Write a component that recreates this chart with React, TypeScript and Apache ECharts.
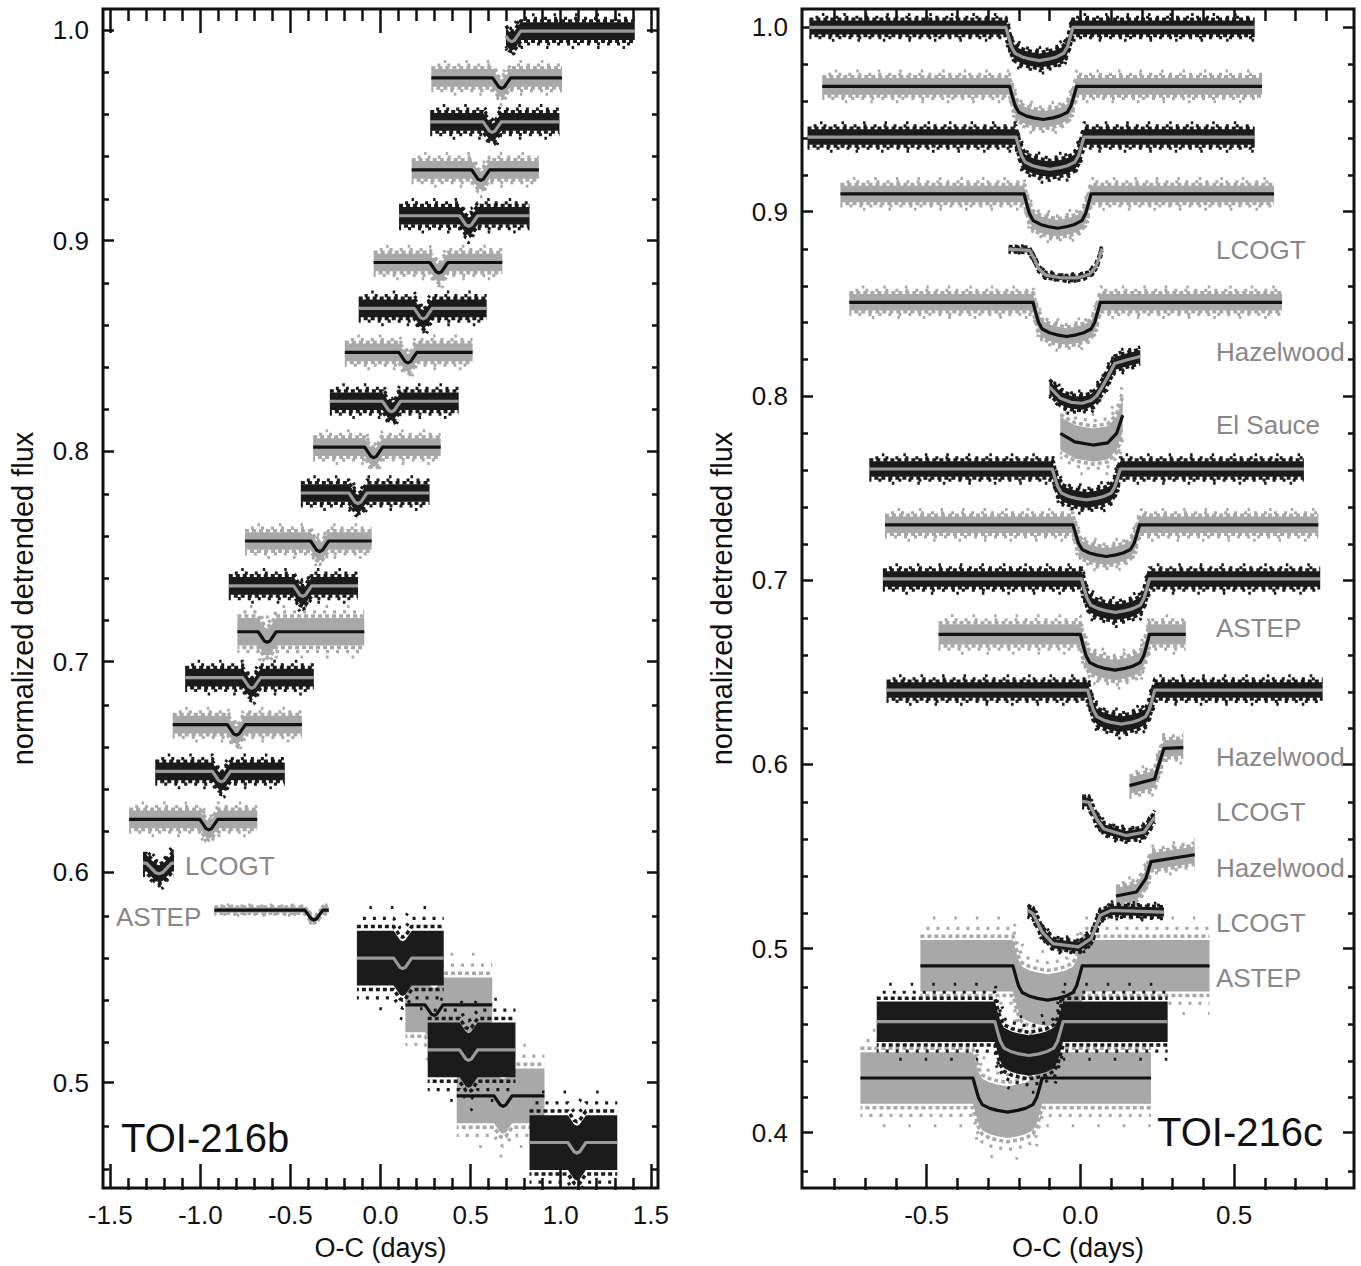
import React, { useEffect, useRef } from 'react';
import * as echarts from 'echarts';

// ---------------- TOI-216b (left panel) ----------------
// each light curve: start, end, baseline flux, transit mid-time, depth, scatter half-width, dark (black points) or not
const bStart = [0.696, 0.282, 0.276, 0.173, 0.103, -0.038, -0.121, -0.198, -0.281, -0.374, -0.442, -0.752, -0.842, -0.794, -1.084, -1.153, -1.250, -1.395, -1.318, -0.922, -0.131, 0.138, 0.262, 0.423, 0.827];
const bEnd = [1.411, 1.007, 0.993, 0.879, 0.827, 0.676, 0.589, 0.511, 0.434, 0.334, 0.272, -0.049, -0.125, -0.090, -0.370, -0.436, -0.531, -0.684, -1.146, -0.287, 0.351, 0.620, 0.749, 0.910, 1.314];
const bBase = [0.9995, 0.9773, 0.9564, 0.9336, 0.9118, 0.8896, 0.8678, 0.8469, 0.8237, 0.8019, 0.7801, 0.7573, 0.7360, 0.7142, 0.6924, 0.6701, 0.6479, 0.6251, 0.6043, 0.5820, 0.5592, 0.5370, 0.5156, 0.4938, 0.4716];
const bMid = [0.728, 0.672, 0.620, 0.556, 0.489, 0.324, 0.237, 0.152, 0.061, -0.038, -0.125, -0.338, -0.432, -0.629, -0.715, -0.800, -0.883, -0.953, -1.229, -0.370, 0.123, 0.297, 0.489, 0.680, 1.090];
const bDepth = [0.005, 0.005, 0.005, 0.005, 0.005, 0.005, 0.005, 0.005, 0.005, 0.005, 0.005, 0.005, 0.005, 0.005, 0.005, 0.005, 0.005, 0.005, 0.005, 0.0047, 0.005, 0.005, 0.005, 0.005, 0.005];
const bNoise = [0.0042, 0.0042, 0.0042, 0.0042, 0.0042, 0.0042, 0.0042, 0.0042, 0.0042, 0.0042, 0.0042, 0.0042, 0.0042, 0.0065, 0.0042, 0.0042, 0.0042, 0.0042, 0.004, 0.0013, 0.013, 0.013, 0.013, 0.013, 0.013];
const bDark = [1, 0, 1, 0, 1, 0, 1, 0, 1, 0, 1, 0, 1, 0, 1, 0, 1, 0, 1, 0, 1, 0, 1, 0, 1];
const bHalfWidth = 0.05;

// ---------------- TOI-216c (right panel), full transits ----------------
const cStart = [-0.881, -0.839, -0.887, -0.780, -0.751, -0.686, -0.635, -0.642, -0.461, -0.630, -0.520, -0.662, -0.715];
const cEnd = [0.567, 0.591, 0.567, 0.630, 0.656, 0.727, 0.774, 0.780, 0.343, 0.788, 0.420, 0.284, 0.230];
const cBase = [1.0, 0.968, 0.9405, 0.9096, 0.8508, 0.7603, 0.730, 0.7006, 0.6705, 0.6403, 0.4906, 0.4603, 0.4297];
const cIngress = [-0.242, -0.230, -0.209, -0.183, -0.154, -0.091, -0.024, 0.004, 0.0, 0.024, -0.219, -0.278, -0.349];
const cEgress = [-0.024, -0.012, 0.012, 0.035, 0.065, 0.130, 0.193, 0.225, 0.225, 0.242, 0.006, -0.056, -0.124];
const cBottom = [0.982, 0.950, 0.923, 0.891, 0.8322, 0.7435, 0.7128, 0.6825, 0.6511, 0.6218, 0.472, 0.4419, 0.4112];
const cNoise = [0.0038, 0.0045, 0.0042, 0.0045, 0.0045, 0.0042, 0.0045, 0.0042, 0.0055, 0.0042, 0.014, 0.011, 0.014];
const cDark = [1, 0, 1, 0, 0, 1, 0, 1, 0, 1, 0, 1, 0];
const cIngressDur = 0.03;

// ---------------- TOI-216c partial transits (model vertices) ----------------
const lcogtA = [[-0.233, 0.8797], [-0.165, 0.879], [-0.15, 0.8745], [-0.135, 0.869], [-0.112, 0.8655], [-0.06, 0.864], [-0.01, 0.864], [0.03, 0.866], [0.05, 0.87], [0.062, 0.875], [0.071, 0.88]];
const hazelA = [[-0.1, 0.8048], [-0.065, 0.7987], [-0.03, 0.7965], [0.006, 0.796], [0.035, 0.7975], [0.053, 0.8], [0.075, 0.806], [0.089, 0.8102], [0.112, 0.8176], [0.15, 0.8195], [0.195, 0.8214]];
const elSauce = [[-0.065, 0.7796], [-0.018, 0.775], [0.041, 0.7733], [0.089, 0.7745], [0.118, 0.7796], [0.138, 0.7895]];
const hazelB = [[0.16, 0.5884], [0.242, 0.592], [0.254, 0.5992], [0.272, 0.6086], [0.335, 0.6091]];
const lcogtB = [[0.006, 0.5799], [0.027, 0.5794], [0.053, 0.5703], [0.077, 0.5649], [0.148, 0.5613], [0.207, 0.5631], [0.242, 0.5713]];
const hazelC = [[0.116, 0.5285], [0.183, 0.5307], [0.213, 0.5379], [0.23, 0.5472], [0.372, 0.5509]];
const lcogtC = [[-0.171, 0.5207], [-0.154, 0.5189], [-0.124, 0.509], [-0.089, 0.5027], [-0.006, 0.5009], [0.035, 0.5054], [0.065, 0.518], [0.1, 0.5207], [0.272, 0.5198]];
const partialCurves = [lcogtA, hazelA, elSauce, hazelB, lcogtB, hazelC, lcogtC];
const partialNoise = [0.0012, 0.0035, 0.009, 0.0045, 0.0025, 0.0045, 0.0025];
const partialDark = [1, 1, 0, 0, 1, 0, 1];

// ---------------- axes ----------------
const bXMajor = [-1.5, -1.0, -0.5, 0.0, 0.5, 1.0, 1.5];
const bYMajor = [0.5, 0.6, 0.7, 0.8, 0.9, 1.0];
const cXMajor = [-0.5, 0.0, 0.5];
const cYMajor = [0.4, 0.5, 0.6, 0.7, 0.8, 0.9, 1.0];

function minorTicks(from: number, to: number, step: number, majors: number[]) {
  const out: number[] = [];
  const n = Math.round((to - from) / step);
  for (let i = 0; i <= n; i++) {
    const v = Math.round((from + i * step) * 1000) / 1000;
    if (!majors.some((m) => Math.abs(m - v) < 1e-6)) out.push(v);
  }
  return out;
}
const bXMinor = minorTicks(-1.5, 1.5, 0.1, bXMajor);
const bYMinor = minorTicks(0.46, 1.0, 0.02, bYMajor);
const cXMinor = minorTicks(-0.8, 0.8, 0.1, cXMajor);
const cYMinor = minorTicks(0.38, 1.0, 0.02, cYMajor);

// ---------------- styling ----------------
const DARK = '#1b1b1b';
const LIGHT = '#a8a8a8';
const LINE_ON_DARK = '#9a9a9a';
const LINE_ON_LIGHT = '#121212';
const FONT = 'Liberation Sans, Arial, Helvetica, sans-serif';
const LABEL_GREY = '#878787';

type Curve = { pts: number[][]; noise: number; dark: boolean };

function fromKnots(x0: number, x1: number, base: number, knots: number[][]) {
  const f = (x: number) => {
    if (x <= knots[0][0] || x >= knots[knots.length - 1][0]) return base;
    for (let i = 0; i < knots.length - 1; i++) {
      const a = knots[i], b = knots[i + 1];
      if (x >= a[0] && x <= b[0]) {
        const t = (x - a[0]) / (b[0] - a[0]);
        return base - (a[1] + t * (b[1] - a[1]));
      }
    }
    return base;
  };
  const xs = [x0, ...knots.map((k) => k[0]).filter((x) => x > x0 && x < x1), x1];
  return xs.map((x) => [x, f(x)]);
}

function vShape(x0: number, x1: number, base: number, mid: number, depth: number, w: number) {
  const offs = [-1, -0.6, -0.3, 0, 0.3, 0.6, 1];
  const frac = [0, 0.5, 0.88, 1, 0.88, 0.5, 0];
  return fromKnots(x0, x1, base, offs.map((o, i) => [mid + o * w, frac[i] * depth]));
}

function uShape(x0: number, x1: number, base: number, t1: number, t4: number, bottom: number, tau: number) {
  const d = base - bottom;
  const a = t1 + tau, b = t4 - tau;
  const knots = [
    [t1, 0], [t1 + 0.3 * tau, 0.3], [t1 + 0.6 * tau, 0.58], [a, 0.78],
    [a + 0.15 * (b - a), 0.89], [a + 0.3 * (b - a), 0.95], [a + 0.5 * (b - a), 1.0],
    [a + 0.7 * (b - a), 0.95], [a + 0.85 * (b - a), 0.89], [b, 0.78],
    [t4 - 0.6 * tau, 0.58], [t4 - 0.3 * tau, 0.3], [t4, 0],
  ].map((k) => [k[0], k[1] * d]);
  return fromKnots(x0, x1, base, knots);
}

const bCurves: Curve[] = bStart.map((s, i) => ({
  pts: vShape(s, bEnd[i], bBase[i], bMid[i], bDepth[i], i === 18 ? 0.07 : bHalfWidth),
  noise: bNoise[i],
  dark: bDark[i] === 1,
}));

const cCurves: Curve[] = [
  ...cStart.map((s, i) => ({
    pts: uShape(s, cEnd[i], cBase[i], cIngress[i], cEgress[i], cBottom[i], cIngressDur),
    noise: cNoise[i],
    dark: cDark[i] === 1,
  })),
  ...partialCurves.map((p, i) => ({ pts: p, noise: partialNoise[i], dark: partialDark[i] === 1 })),
];

// fringe rows of the point cloud: offset (in noise units), dash, width, dash offset
const FRINGE = [
  { k: 1.15, dash: [4, 3], w: 3.5, off: 0 },
  { k: -1.15, dash: [4, 3], w: 3.5, off: 2 },
  { k: 1.45, dash: [3, 7], w: 3.2, off: 4 },
  { k: -1.45, dash: [3, 7], w: 3.2, off: 1 },
  { k: 1.85, dash: [2.5, 19], w: 3, off: 9 },
  { k: -1.85, dash: [2.5, 23], w: 3, off: 3 },
];

function curveSeries(curves: Curve[], axisIndex: number, dark: boolean) {
  const list = curves.filter((c) => c.dark === dark);
  const fill = dark ? DARK : LIGHT;
  const stroke = dark ? LINE_ON_DARK : LINE_ON_LIGHT;
  return {
    type: 'custom',
    xAxisIndex: axisIndex,
    yAxisIndex: axisIndex,
    clip: true,
    data: list.map((c) => [c.pts[0][0], c.pts[0][1]]),
    encode: { x: 0, y: 1 },
    renderItem: (params: any, api: any) => {
      const c = list[params.dataIndex];
      const shift = (k: number) => c.pts.map((p) => api.coord([p[0], p[1] + c.noise * k]));
      const band = shift(1).concat(shift(-1).reverse());
      const fringe = FRINGE.map((f) => ({
        type: 'polyline',
        shape: { points: shift(f.k) },
        style: { stroke: fill, lineWidth: f.w, fill: null, lineDash: f.dash, lineDashOffset: f.off },
      }));
      return {
        type: 'group',
        children: [
          ...fringe,
          { type: 'polygon', shape: { points: band }, style: { fill } },
          {
            type: 'polyline',
            shape: { points: c.pts.map((p) => api.coord(p)) },
            style: { stroke, lineWidth: 3.2, fill: null, lineJoin: 'round' },
          },
        ],
      };
    },
  };
}

const tickStyle = { color: '#111', width: 2.5 };

function xAxis(grid: number, pos: string, min: number, max: number, ticks: number[], len: number, labels: boolean) {
  return {
    type: 'value', gridIndex: grid, position: pos, min, max,
    axisLine: { show: false, onZero: false }, splitLine: { show: false },
    axisTick: { show: true, inside: true, length: len, customValues: ticks, lineStyle: tickStyle },
    axisLabel: labels
      ? { show: true, customValues: ticks, formatter: (v: number) => v.toFixed(1), fontSize: 26, color: '#111', fontFamily: FONT, margin: 14 }
      : { show: false },
    name: labels ? 'O-C (days)' : '',
    nameLocation: 'middle', nameGap: 46,
    nameTextStyle: { fontSize: 27, color: '#111', fontFamily: FONT },
  };
}

function yAxis(grid: number, pos: string, min: number, max: number, ticks: number[], len: number, labels: boolean) {
  return {
    type: 'value', gridIndex: grid, position: pos, min, max,
    axisLine: { show: false, onZero: false }, splitLine: { show: false },
    axisTick: { show: true, inside: true, length: len, customValues: ticks, lineStyle: tickStyle },
    axisLabel: labels
      ? { show: true, customValues: ticks, formatter: (v: number) => v.toFixed(1), fontSize: 26, color: '#111', fontFamily: FONT, margin: 14 }
      : { show: false },
    name: labels ? 'normalized detrended flux' : '',
    nameLocation: 'middle', nameGap: 66,
    nameTextStyle: { fontSize: 29, color: '#111', fontFamily: FONT },
  };
}

const txt = (text: string, x: number, y: number, size: number, color: string) => ({
  type: 'text', x, y, silent: true,
  style: { text, fill: color, fontSize: size, fontFamily: FONT, align: 'left', verticalAlign: 'middle' },
});

export default function App() {
  const ref = useRef<HTMLDivElement>(null);
  useEffect(() => {
    if (!ref.current) return;
    const chart = echarts.init(ref.current, undefined, { renderer: 'svg' });
    const B = { left: 103, top: 9, width: 555, height: 1181 };
    const C = { left: 802, top: 9, width: 552, height: 1181 };
    const bx: [number, number] = [-1.54, 1.54];
    const by: [number, number] = [0.45, 1.01];
    const cx: [number, number] = [-0.905, 0.89];
    const cy: [number, number] = [0.37, 1.01];
    chart.setOption({
      animation: false,
      backgroundColor: '#fff',
      grid: [
        { ...B, show: true, borderColor: '#111', borderWidth: 3, backgroundColor: 'transparent' },
        { ...B, show: false },
        { ...C, show: true, borderColor: '#111', borderWidth: 3, backgroundColor: 'transparent' },
        { ...C, show: false },
      ],
      xAxis: [
        xAxis(0, 'bottom', bx[0], bx[1], bXMajor, 24, true),
        xAxis(0, 'top', bx[0], bx[1], bXMajor, 24, false),
        xAxis(1, 'bottom', bx[0], bx[1], bXMinor, 12, false),
        xAxis(1, 'top', bx[0], bx[1], bXMinor, 12, false),
        xAxis(2, 'bottom', cx[0], cx[1], cXMajor, 24, true),
        xAxis(2, 'top', cx[0], cx[1], cXMajor, 24, false),
        xAxis(3, 'bottom', cx[0], cx[1], cXMinor, 12, false),
        xAxis(3, 'top', cx[0], cx[1], cXMinor, 12, false),
      ],
      yAxis: [
        yAxis(0, 'left', by[0], by[1], bYMajor, 11, true),
        yAxis(0, 'right', by[0], by[1], bYMajor, 11, false),
        yAxis(1, 'left', by[0], by[1], bYMinor, 6, false),
        yAxis(1, 'right', by[0], by[1], bYMinor, 6, false),
        yAxis(2, 'left', cy[0], cy[1], cYMajor, 11, true),
        yAxis(2, 'right', cy[0], cy[1], cYMajor, 11, false),
        yAxis(3, 'left', cy[0], cy[1], cYMinor, 6, false),
        yAxis(3, 'right', cy[0], cy[1], cYMinor, 6, false),
      ],
      series: [
        curveSeries(bCurves, 0, false),
        curveSeries(bCurves, 0, true),
        curveSeries(cCurves, 4, false),
        curveSeries(cCurves, 4, true),
      ],
      graphic: [
        txt('LCOGT', 185, 866, 26, LABEL_GREY),
        txt('ASTEP', 116, 917, 26, LABEL_GREY),
        txt('TOI-216b', 121, 1138, 40, '#111'),
        txt('LCOGT', 1216, 250, 26, LABEL_GREY),
        txt('Hazelwood', 1216, 352, 26, LABEL_GREY),
        txt('El Sauce', 1216, 425, 26, LABEL_GREY),
        txt('ASTEP', 1216, 628, 26, LABEL_GREY),
        txt('Hazelwood', 1216, 757, 26, LABEL_GREY),
        txt('LCOGT', 1216, 812, 26, LABEL_GREY),
        txt('Hazelwood', 1216, 868, 26, LABEL_GREY),
        txt('LCOGT', 1216, 923, 26, LABEL_GREY),
        txt('ASTEP', 1216, 978, 26, LABEL_GREY),
        txt('TOI-216c', 1157, 1132, 40, '#111'),
      ],
    });
    return () => chart.dispose();
  }, []);
  return (
    <div
      ref={ref}
      style={{ position: 'absolute', left: 0, top: 0, width: 1361, height: 1266, background: '#fff' }}
    />
  );
}
